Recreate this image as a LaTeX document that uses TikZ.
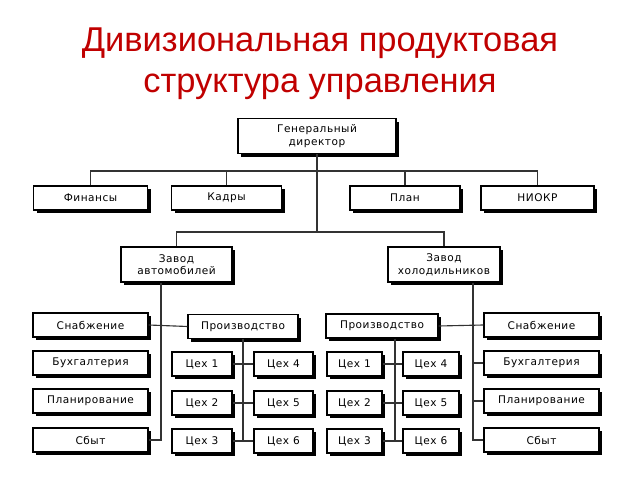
\documentclass[tikz,border=0pt]{standalone}
\usepackage{fontspec}
\setmainfont{Liberation Sans}
\newfontfamily\boxfont[LetterSpace=5]{DejaVu Sans}
\usetikzlibrary{shadows}
\definecolor{titlered}{RGB}{192,0,0}
\newcommand{\pxu}{0.025cm}

\begin{document}
\begin{tikzpicture}[x=\pxu,y=-\pxu,
  unit/.style={draw=black,fill=white,line width=0.8pt,inner sep=1pt,align=center,
    font=\boxfont\fontsize{7.5}{9}\selectfont,
    minimum width=#1*\pxu,minimum height=24*\pxu,
    drop shadow={shadow xshift=2.4pt,shadow yshift=-2.4pt,fill=black,opacity=1}},
  link/.style={line width=0.8pt,black!80},
  headline/.style={font=\fontsize{24.5}{29}\selectfont,text=titlered,anchor=base}]
\useasboundingbox (0,0) rectangle (640,480);

\node[headline] (title1) at (320,51) {Дивизиональная продуктовая};
\node[headline] (title2) at (320,92) {структура управления};

\coordinate (t1) at (317,171);
\coordinate (t2) at (317,232);
\coordinate (lb) at (161,0);
\coordinate (rb) at (473,0);
\coordinate (hc) at (395,0);

\node[unit=158,minimum height=35*\pxu] (gd) at (317,136) {Генеральный\\директор};
\foreach \n/\t/\x/\w in {fin/Финансы/90.5/114,kad/Кадры/226.5/110,plan/План/405/110,niokr/НИОКР/537.5/113}{
\node[unit=\w] (\n) at (\x,198) {\t};
}
\node[unit=111,minimum height=35*\pxu] (zavA) at (176.5,264.5) {Завод\\автомобилей};
\node[unit=112,minimum height=35*\pxu] (zavH) at (444,264.5) {Завод\\холодильников};

\foreach \s/\t/\y in {sn/Снабжение/325,buh/Бухгалтерия/363,plan/Планирование/401,sb/Сбыт/440}{
\node[unit=115] (\s A) at (90.5,\y) {\t};
\node[unit=115] (\s H) at (541.5,\y) {\t};
}
\node[unit=110] (prA) at (243,326.5) {Производство};
\node[unit=112] (prH) at (382,326) {Производство};

\foreach \i/\j/\y in {1/4/364,2/5/403,3/6/441}{
\node[unit=60] (c\i A) at (202,\y) {Цех \i};
\node[unit=59] (c\j A) at (283.5,\y) {Цех \j};
\node[unit=55] (c\i H) at (354.5,\y) {Цех \i};
\node[unit=56] (c\j H) at (431,\y) {Цех \j};
}

\draw[link] (gd.south) -- (t2);
\draw[link] (fin.north) |- (t1) -| (niokr.north);
\draw[link] (kad.north) -- (kad.north |- t1);
\draw[link] (plan.north) -- (plan.north |- t1);
\draw[link] (zavA.north) |- (t2) -| (zavH.north);

\draw[link] (zavA.south -| lb) |- (sbA.east);
\draw[link] (snA.east) -- (prA.west);
\draw[link] (zavH.south -| rb) |- (sbH.west);
\draw[link] (prH.east) -- (snH.west);
\foreach \n in {buhH,planH}{
\draw[link] (\n.west) -- (\n.west -| rb);
}

\draw[link] (prA.south) -- (prA.south |- c3A.east);
\draw[link] (prH.south -| hc) -- (hc |- c3H.east);
\foreach \a/\b in {1/4,2/5,3/6}{
\draw[link] (c\a A.east) -- (c\b A.west);
\draw[link] (c\a H.east) -- (c\b H.west);
}
\end{tikzpicture}
\end{document}
